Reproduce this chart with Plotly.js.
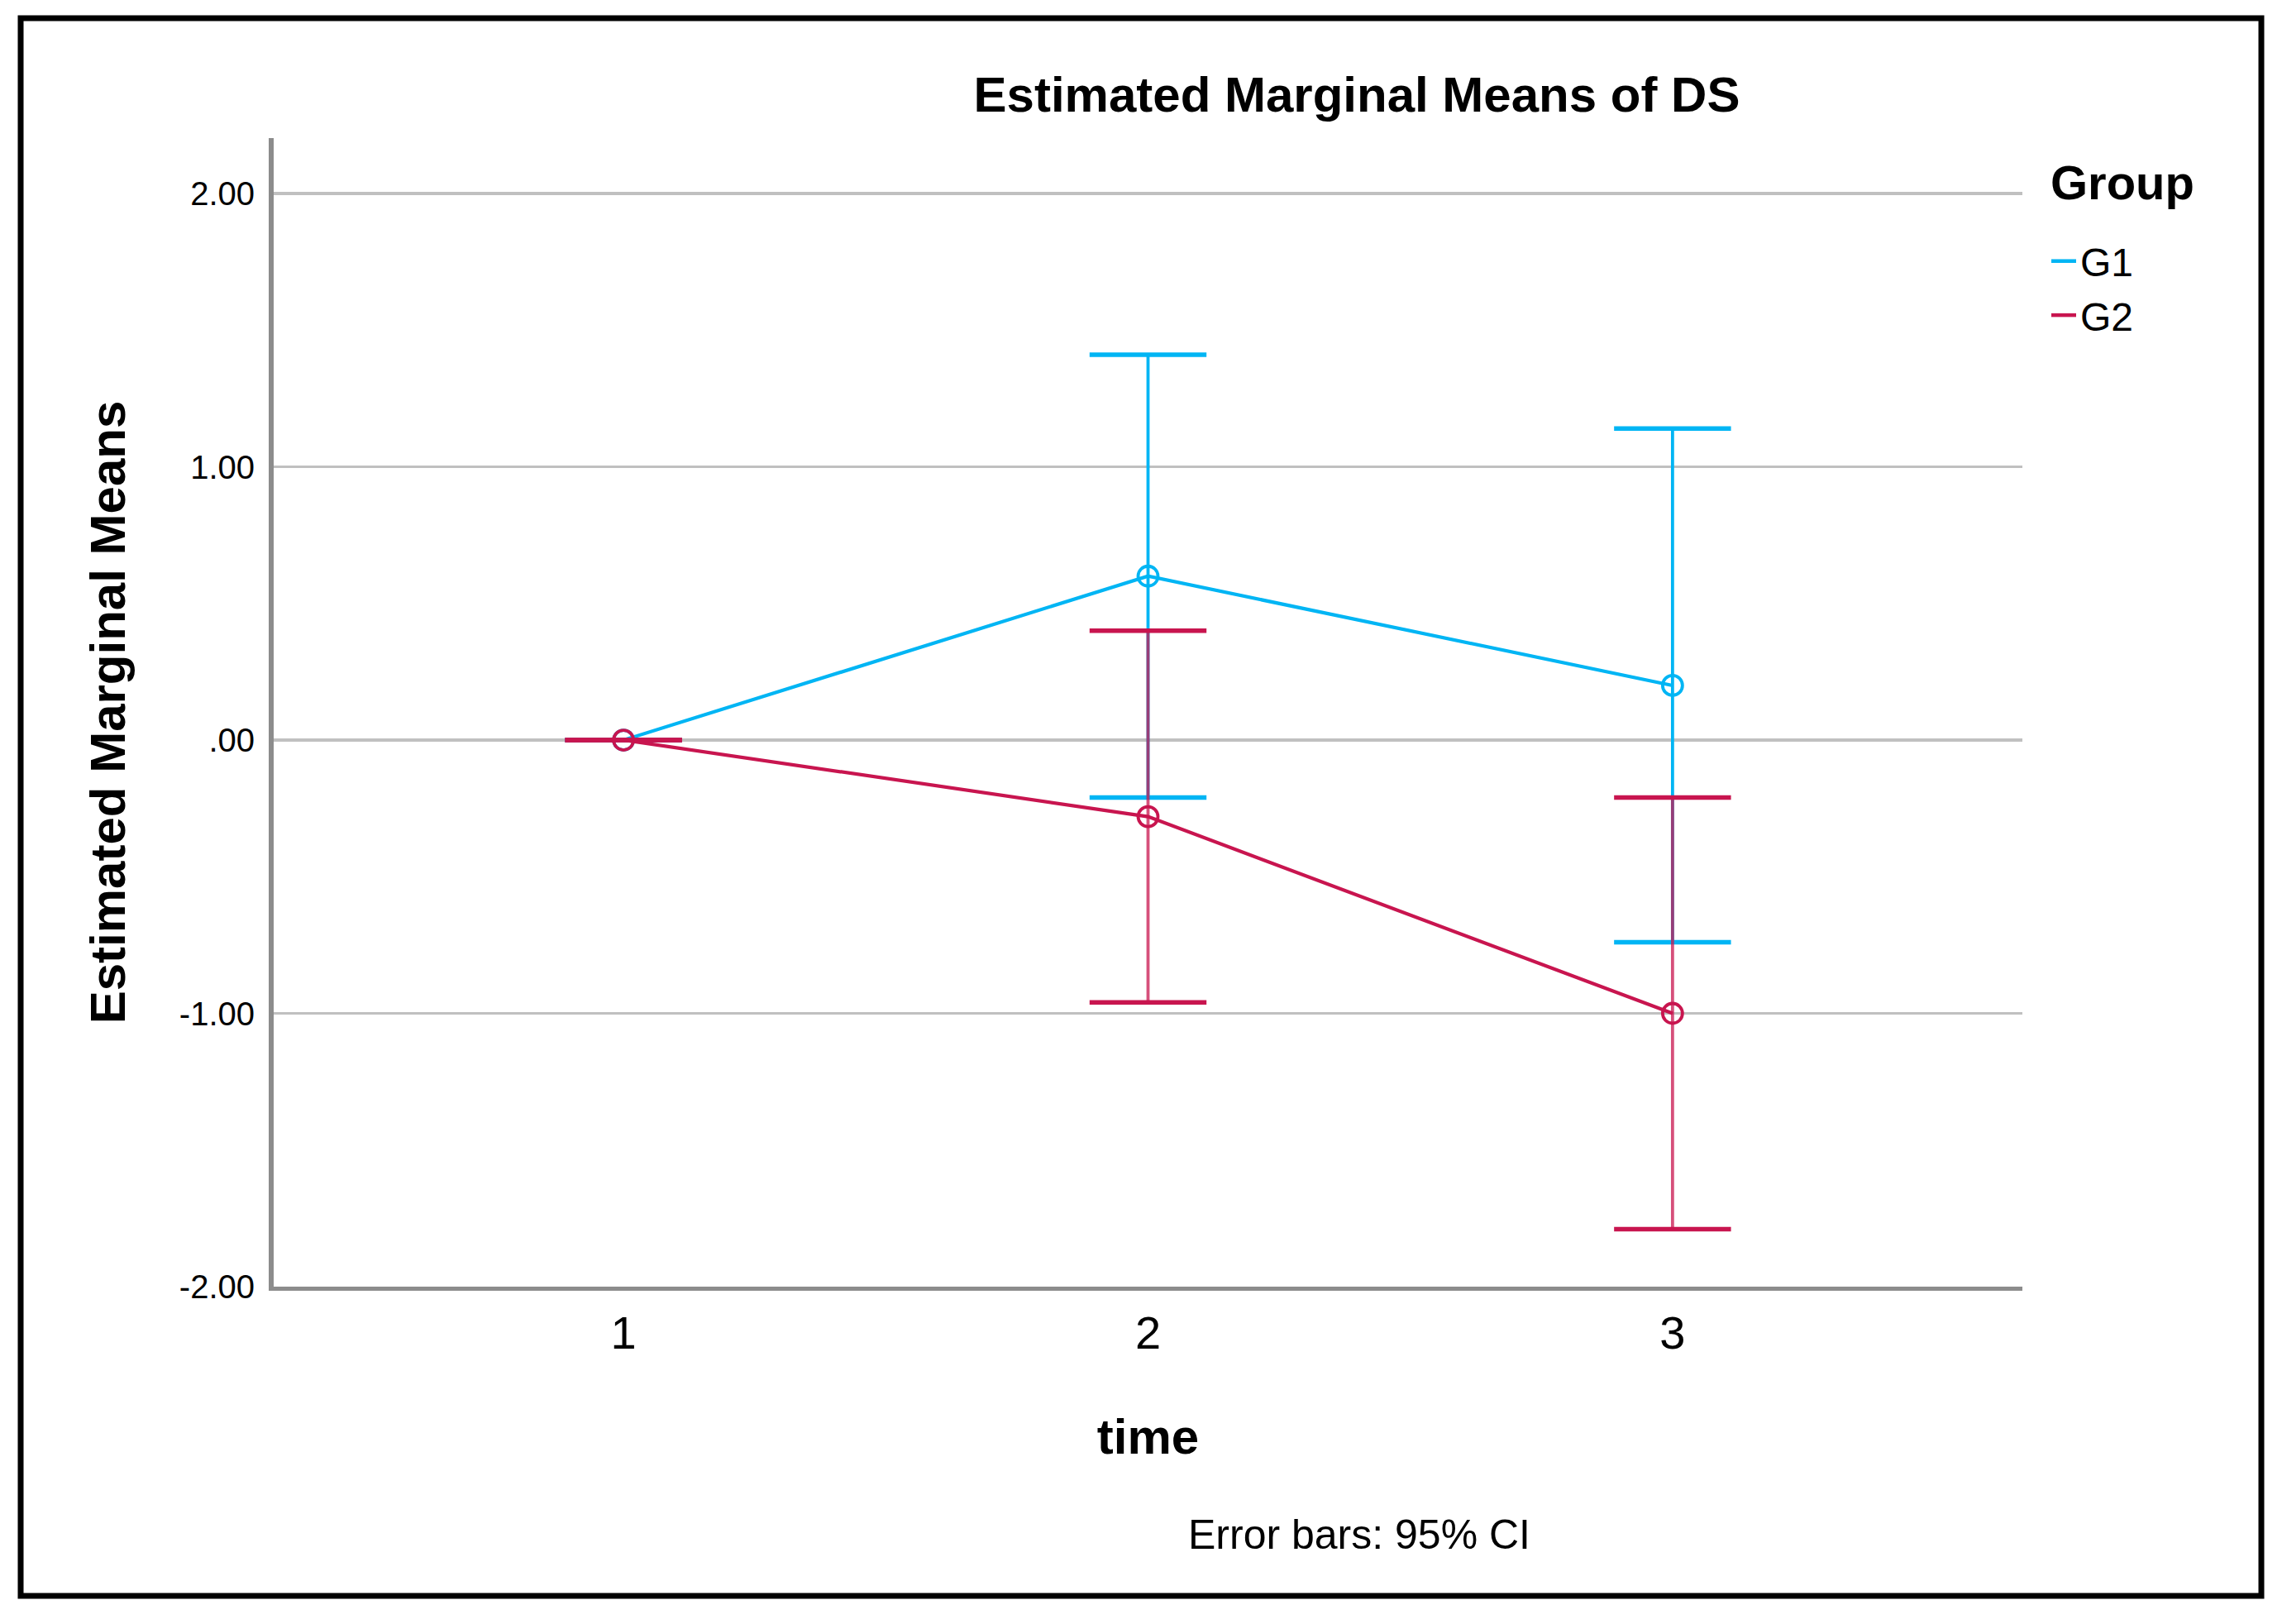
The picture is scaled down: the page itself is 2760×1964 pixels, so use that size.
<!DOCTYPE html>
<html>
<head>
<meta charset="utf-8">
<script src="https://cdn.plot.ly/plotly-3.0.1.min.js"></script>
<style>
  html, body { margin: 0; padding: 0; background: #ffffff; }
  #chart { width: 2760px; height: 1964px; }
</style>
</head>
<body>
<div id="chart"></div>
<script>
// ---- data ----
const timePoints = [1, 2, 3];
const timeLabels = ["1", "2", "3"];
const groupNames = ["G1", "G2"];

const g1Mean  = [0.00, 0.60, 0.20];
const g1Lower = [0.00, -0.21, -0.74];
const g1Upper = [0.00, 1.41, 1.14];

const g2Mean  = [0.00, -0.28, -1.00];
const g2Lower = [0.00, -0.96, -1.79];
const g2Upper = [0.00, 0.40, -0.21];

const yTickVals = [-2, -1, 0, 1, 2];
const yTickText = ["-2.00", "-1.00", ".00", "1.00", "2.00"];

// ---- styles ----
const G1_COLOR = "#00B5F4";
const G2_COLOR = "#C8154F";
const FONT = "Liberation Sans, Arial, sans-serif";

function diff(a, b) { return a.map((v, i) => v - b[i]); }

function groupTraces(name, color, stemColor, mean, lower, upper) {
  return [
    // CI stems
    {
      type: "scatter", mode: "markers", x: timePoints, y: mean,
      marker: { size: 1, color: "rgba(0,0,0,0)" },
      error_y: {
        type: "data", symmetric: false,
        array: diff(upper, mean), arrayminus: diff(mean, lower),
        color: stemColor, thickness: 3.8, width: 0
      },
      showlegend: false, hoverinfo: "skip"
    },
    // CI caps
    {
      type: "scatter", mode: "markers",
      x: timePoints.concat(timePoints), y: upper.concat(lower),
      marker: { symbol: "line-ew", size: 101, line: { color: color, width: 5.5 } },
      showlegend: false, hoverinfo: "skip"
    },
    // means line + markers
    {
      type: "scatter", mode: "lines+markers", x: timePoints, y: mean,
      line: { color: color, width: 4.2 },
      marker: { symbol: "circle-open", size: 24, color: color, line: { color: color, width: 3.8 } },
      showlegend: false, name: name
    },
    // legend entry (line only)
    {
      type: "scatter", mode: "lines", x: [null], y: [null], name: name,
      line: { color: color, width: 4.5 }, showlegend: true
    }
  ];
}

const data = []
  .concat(groupTraces(groupNames[0], G1_COLOR, G1_COLOR, g1Mean, g1Lower, g1Upper))
  .concat(groupTraces(groupNames[1], G2_COLOR, "rgba(200,21,79,0.75)", g2Mean, g2Lower, g2Upper));

const W = 2760, H = 1964;
const L = 331, R = 2446, T = 167, B = 1556;
const pw = R - L, ph = B - T;
const px = x => (x - L) / pw;
const py = y => (B - y) / ph;

const layout = {
  width: W, height: H,
  paper_bgcolor: "#ffffff", plot_bgcolor: "#ffffff",
  margin: { l: L, r: W - R, t: T, b: H - B, pad: 0 },
  font: { family: FONT, color: "#000000" },
  title: {
    text: "<b>Estimated Marginal Means of DS</b>",
    font: { family: FONT, size: 60, color: "#000000" },
    x: 1641 / W, xanchor: "center", xref: "container",
    y: 1 - 114 / H, yanchor: "middle", yref: "container"
  },
  xaxis: {
    range: [0.333, 3.667],
    tickvals: timePoints, ticktext: timeLabels,
    tickfont: { family: FONT, size: 56, color: "#000000" },
    ticks: "", ticklabelstandoff: 3,
    showgrid: false, zeroline: false,
    showline: true, linecolor: "#8c8c8c", linewidth: 5,
    title: { text: "<b>time</b>", font: { family: FONT, size: 60, color: "#000000" }, standoff: 75 },
    fixedrange: true
  },
  yaxis: {
    range: [-2, 2.203],
    tickvals: yTickVals, ticktext: yTickText,
    tickfont: { family: FONT, size: 40, color: "#000000" },
    ticks: "", ticklabelstandoff: 9,
    showgrid: true, gridcolor: "#c0c0c0", gridwidth: 3.5,
    zeroline: false,
    showline: true, linecolor: "#8c8c8c", linewidth: 6,
    title: { text: "<b>Estimated Marginal Means</b>", font: { family: FONT, size: 60, color: "#000000" }, standoff: 48 },
    fixedrange: true
  },
  legend: {
    x: px(2476), xanchor: "left", xref: "paper",
    y: py(278), yanchor: "top", yref: "paper",
    bgcolor: "rgba(0,0,0,0)",
    font: { family: FONT, size: 48, color: "#000000" },
    tracegroupgap: 0
  },
  annotations: [
    {
      text: "<b>Group</b>", showarrow: false,
      xref: "paper", yref: "paper",
      x: px(2478), xanchor: "left",
      y: py(220), yanchor: "middle",
      font: { family: FONT, size: 58, color: "#000000" }
    },
    {
      text: "Error bars: 95% CI", showarrow: false,
      xref: "paper", yref: "paper",
      x: px(1644), xanchor: "center",
      y: py(1856), yanchor: "middle",
      font: { family: FONT, size: 50, color: "#000000" }
    }
  ],
  shapes: [
    {
      type: "rect", xref: "paper", yref: "paper",
      x0: px(25), x1: px(2735), y0: py(1930), y1: py(22),
      line: { color: "#000000", width: 7 }, fillcolor: "rgba(0,0,0,0)", layer: "above"
    }
  ],
  showlegend: true
};

Plotly.newPlot("chart", data, layout, { staticPlot: true, displayModeBar: false });
</script>
</body>
</html>
